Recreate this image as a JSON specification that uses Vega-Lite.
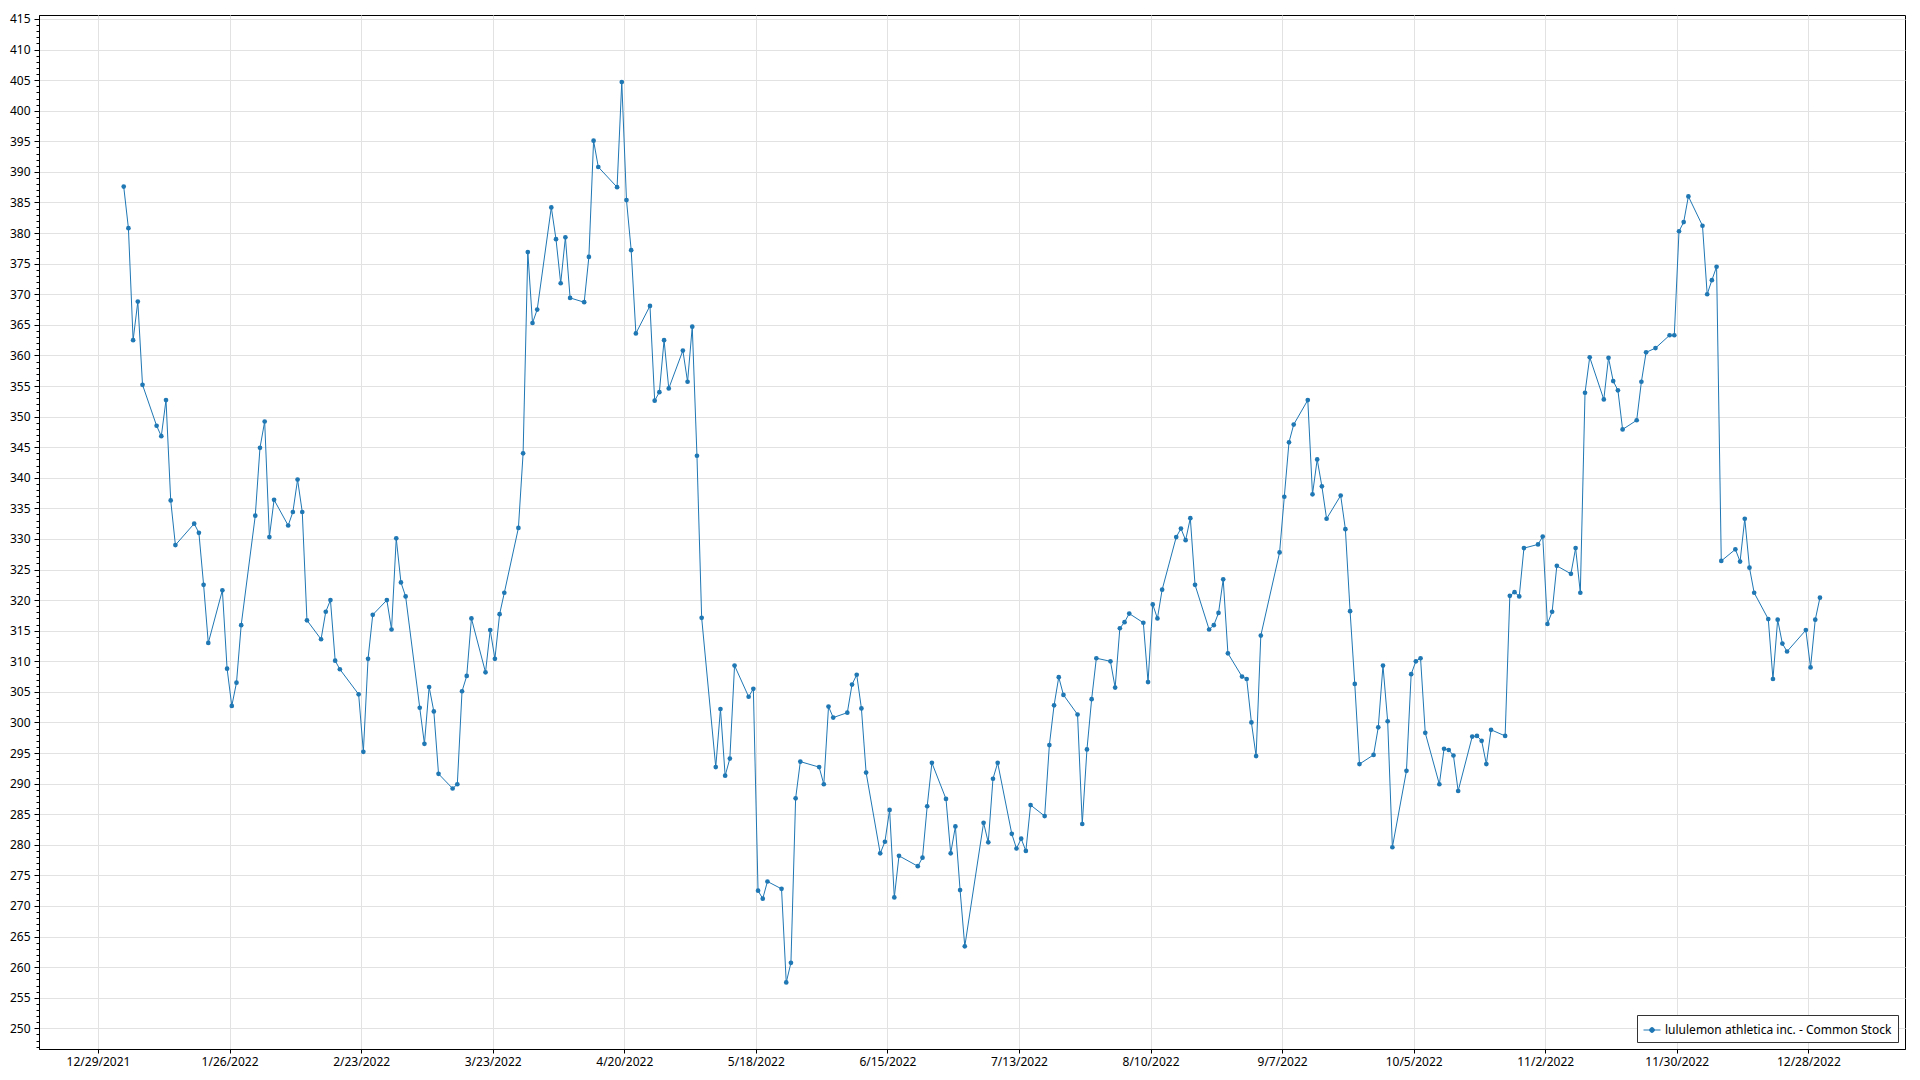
{
"$schema": "https://vega.github.io/schema/vega-lite/v6.json",
"width": 1866, "height": 1034,
"autosize": {"type": "none"},
"padding": {"left": 39, "top": 15, "right": 15, "bottom": 31},
"background": "white",
"config": {
  "view": {"stroke": "#000", "strokeWidth": 1},
  "font": "Noto Sans",
  "axis": {"domainColor": "#000", "tickColor": "#000", "labelColor": "#000", "labelFontSize": 12, "labelFont": "Noto Sans", "gridColor": "#e2e2e2", "gridWidth": 1}
},
"data": {"values": [
{"date":"2022-01-03","close":387.6},{"date":"2022-01-04","close":380.8},{"date":"2022-01-05","close":362.5},{"date":"2022-01-06","close":368.8},{"date":"2022-01-07","close":355.2},
{"date":"2022-01-10","close":348.5},{"date":"2022-01-11","close":346.8},{"date":"2022-01-12","close":352.7},{"date":"2022-01-13","close":336.3},{"date":"2022-01-14","close":329.0},
{"date":"2022-01-18","close":332.5},{"date":"2022-01-19","close":331.0},{"date":"2022-01-20","close":322.5},{"date":"2022-01-21","close":313.0},
{"date":"2022-01-24","close":321.6},{"date":"2022-01-25","close":308.8},{"date":"2022-01-26","close":302.7},{"date":"2022-01-27","close":306.5},{"date":"2022-01-28","close":315.9},
{"date":"2022-01-31","close":333.8},{"date":"2022-02-01","close":344.9},{"date":"2022-02-02","close":349.2},{"date":"2022-02-03","close":330.3},{"date":"2022-02-04","close":336.4},
{"date":"2022-02-07","close":332.2},{"date":"2022-02-08","close":334.4},{"date":"2022-02-09","close":339.7},{"date":"2022-02-10","close":334.4},{"date":"2022-02-11","close":316.7},
{"date":"2022-02-14","close":313.6},{"date":"2022-02-15","close":318.1},{"date":"2022-02-16","close":320.0},{"date":"2022-02-17","close":310.1},{"date":"2022-02-18","close":308.7},
{"date":"2022-02-22","close":304.6},{"date":"2022-02-23","close":295.2},{"date":"2022-02-24","close":310.4},{"date":"2022-02-25","close":317.6},
{"date":"2022-02-28","close":320.0},{"date":"2022-03-01","close":315.2},{"date":"2022-03-02","close":330.1},{"date":"2022-03-03","close":322.9},{"date":"2022-03-04","close":320.6},
{"date":"2022-03-07","close":302.4},{"date":"2022-03-08","close":296.5},{"date":"2022-03-09","close":305.8},{"date":"2022-03-10","close":301.8},{"date":"2022-03-11","close":291.6},
{"date":"2022-03-14","close":289.2},{"date":"2022-03-15","close":289.9},{"date":"2022-03-16","close":305.1},{"date":"2022-03-17","close":307.6},{"date":"2022-03-18","close":317.0},
{"date":"2022-03-21","close":308.2},{"date":"2022-03-22","close":315.1},{"date":"2022-03-23","close":310.4},{"date":"2022-03-24","close":317.7},{"date":"2022-03-25","close":321.2},
{"date":"2022-03-28","close":331.8},{"date":"2022-03-29","close":344.0},{"date":"2022-03-30","close":376.9},{"date":"2022-03-31","close":365.3},{"date":"2022-04-01","close":367.5},
{"date":"2022-04-04","close":384.2},{"date":"2022-04-05","close":379.0},{"date":"2022-04-06","close":371.8},{"date":"2022-04-07","close":379.3},{"date":"2022-04-08","close":369.4},
{"date":"2022-04-11","close":368.7},{"date":"2022-04-12","close":376.1},{"date":"2022-04-13","close":395.1},{"date":"2022-04-14","close":390.8},
{"date":"2022-04-18","close":387.5},{"date":"2022-04-19","close":404.7},{"date":"2022-04-20","close":385.4},{"date":"2022-04-21","close":377.2},{"date":"2022-04-22","close":363.6},
{"date":"2022-04-25","close":368.1},{"date":"2022-04-26","close":352.6},{"date":"2022-04-27","close":354.0},{"date":"2022-04-28","close":362.5},{"date":"2022-04-29","close":354.6},
{"date":"2022-05-02","close":360.8},{"date":"2022-05-03","close":355.7},{"date":"2022-05-04","close":364.7},{"date":"2022-05-05","close":343.6},{"date":"2022-05-06","close":317.1},
{"date":"2022-05-09","close":292.7},{"date":"2022-05-10","close":302.2},{"date":"2022-05-11","close":291.3},{"date":"2022-05-12","close":294.1},{"date":"2022-05-13","close":309.3},
{"date":"2022-05-16","close":304.2},{"date":"2022-05-17","close":305.5},{"date":"2022-05-18","close":272.5},{"date":"2022-05-19","close":271.2},{"date":"2022-05-20","close":274.0},
{"date":"2022-05-23","close":272.8},{"date":"2022-05-24","close":257.5},{"date":"2022-05-25","close":260.7},{"date":"2022-05-26","close":287.6},{"date":"2022-05-27","close":293.6},
{"date":"2022-05-31","close":292.7},{"date":"2022-06-01","close":289.9},{"date":"2022-06-02","close":302.6},{"date":"2022-06-03","close":300.8},
{"date":"2022-06-06","close":301.6},{"date":"2022-06-07","close":306.2},{"date":"2022-06-08","close":307.8},{"date":"2022-06-09","close":302.3},{"date":"2022-06-10","close":291.8},
{"date":"2022-06-13","close":278.6},{"date":"2022-06-14","close":280.5},{"date":"2022-06-15","close":285.7},{"date":"2022-06-16","close":271.4},{"date":"2022-06-17","close":278.2},
{"date":"2022-06-21","close":276.5},{"date":"2022-06-22","close":277.9},{"date":"2022-06-23","close":286.3},{"date":"2022-06-24","close":293.4},
{"date":"2022-06-27","close":287.5},{"date":"2022-06-28","close":278.6},{"date":"2022-06-29","close":283.0},{"date":"2022-06-30","close":272.6},{"date":"2022-07-01","close":263.4},
{"date":"2022-07-05","close":283.6},{"date":"2022-07-06","close":280.4},{"date":"2022-07-07","close":290.8},{"date":"2022-07-08","close":293.4},
{"date":"2022-07-11","close":281.8},{"date":"2022-07-12","close":279.4},{"date":"2022-07-13","close":281.0},{"date":"2022-07-14","close":279.0},{"date":"2022-07-15","close":286.5},
{"date":"2022-07-18","close":284.7},{"date":"2022-07-19","close":296.3},{"date":"2022-07-20","close":302.8},{"date":"2022-07-21","close":307.4},{"date":"2022-07-22","close":304.5},
{"date":"2022-07-25","close":301.3},{"date":"2022-07-26","close":283.4},{"date":"2022-07-27","close":295.6},{"date":"2022-07-28","close":303.8},{"date":"2022-07-29","close":310.5},
{"date":"2022-08-01","close":310.0},{"date":"2022-08-02","close":305.7},{"date":"2022-08-03","close":315.4},{"date":"2022-08-04","close":316.4},{"date":"2022-08-05","close":317.8},
{"date":"2022-08-08","close":316.3},{"date":"2022-08-09","close":306.6},{"date":"2022-08-10","close":319.3},{"date":"2022-08-11","close":317.0},{"date":"2022-08-12","close":321.7},
{"date":"2022-08-15","close":330.3},{"date":"2022-08-16","close":331.7},{"date":"2022-08-17","close":329.8},{"date":"2022-08-18","close":333.4},{"date":"2022-08-19","close":322.5},
{"date":"2022-08-22","close":315.2},{"date":"2022-08-23","close":315.9},{"date":"2022-08-24","close":317.9},{"date":"2022-08-25","close":323.4},{"date":"2022-08-26","close":311.3},
{"date":"2022-08-29","close":307.5},{"date":"2022-08-30","close":307.1},{"date":"2022-08-31","close":300.0},{"date":"2022-09-01","close":294.5},{"date":"2022-09-02","close":314.2},
{"date":"2022-09-06","close":327.8},{"date":"2022-09-07","close":336.9},{"date":"2022-09-08","close":345.8},{"date":"2022-09-09","close":348.7},
{"date":"2022-09-12","close":352.7},{"date":"2022-09-13","close":337.3},{"date":"2022-09-14","close":343.0},{"date":"2022-09-15","close":338.6},{"date":"2022-09-16","close":333.3},
{"date":"2022-09-19","close":337.1},{"date":"2022-09-20","close":331.6},{"date":"2022-09-21","close":318.2},{"date":"2022-09-22","close":306.3},{"date":"2022-09-23","close":293.2},
{"date":"2022-09-26","close":294.7},{"date":"2022-09-27","close":299.2},{"date":"2022-09-28","close":309.3},{"date":"2022-09-29","close":300.2},{"date":"2022-09-30","close":279.6},
{"date":"2022-10-03","close":292.1},{"date":"2022-10-04","close":307.9},{"date":"2022-10-05","close":310.0},{"date":"2022-10-06","close":310.5},{"date":"2022-10-07","close":298.3},
{"date":"2022-10-10","close":289.9},{"date":"2022-10-11","close":295.7},{"date":"2022-10-12","close":295.5},{"date":"2022-10-13","close":294.6},{"date":"2022-10-14","close":288.8},
{"date":"2022-10-17","close":297.7},{"date":"2022-10-18","close":297.8},{"date":"2022-10-19","close":297.0},{"date":"2022-10-20","close":293.2},{"date":"2022-10-21","close":298.8},
{"date":"2022-10-24","close":297.8},{"date":"2022-10-25","close":320.7},{"date":"2022-10-26","close":321.3},{"date":"2022-10-27","close":320.6},{"date":"2022-10-28","close":328.5},
{"date":"2022-10-31","close":329.1},{"date":"2022-11-01","close":330.4},{"date":"2022-11-02","close":316.1},{"date":"2022-11-03","close":318.1},{"date":"2022-11-04","close":325.6},
{"date":"2022-11-07","close":324.3},{"date":"2022-11-08","close":328.5},{"date":"2022-11-09","close":321.2},{"date":"2022-11-10","close":353.9},{"date":"2022-11-11","close":359.7},
{"date":"2022-11-14","close":352.8},{"date":"2022-11-15","close":359.6},{"date":"2022-11-16","close":355.8},{"date":"2022-11-17","close":354.3},{"date":"2022-11-18","close":347.9},
{"date":"2022-11-21","close":349.4},{"date":"2022-11-22","close":355.7},{"date":"2022-11-23","close":360.5},{"date":"2022-11-25","close":361.2},
{"date":"2022-11-28","close":363.3},{"date":"2022-11-29","close":363.3},{"date":"2022-11-30","close":380.3},{"date":"2022-12-01","close":381.8},{"date":"2022-12-02","close":386.0},
{"date":"2022-12-05","close":381.2},{"date":"2022-12-06","close":370.0},{"date":"2022-12-07","close":372.3},{"date":"2022-12-08","close":374.5},{"date":"2022-12-09","close":326.4},
{"date":"2022-12-12","close":328.3},{"date":"2022-12-13","close":326.3},{"date":"2022-12-14","close":333.3},{"date":"2022-12-15","close":325.3},{"date":"2022-12-16","close":321.2},
{"date":"2022-12-19","close":316.9},{"date":"2022-12-20","close":307.1},{"date":"2022-12-21","close":316.8},{"date":"2022-12-22","close":312.9},{"date":"2022-12-23","close":311.6},
{"date":"2022-12-27","close":315.1},{"date":"2022-12-28","close":309.0},{"date":"2022-12-29","close":316.8},{"date":"2022-12-30","close":320.4}
]},
"encoding": {
  "x": {"field": "date", "type": "temporal",
    "scale": {"type": "utc", "domain": [{"year": 2021, "month": 12, "date": 15, "hours": 23, "minutes": 17, "utc": true}, {"year": 2023, "month": 1, "date": 17, "hours": 2, "minutes": 24, "utc": true}]},
    "axis": {"title": null, "labelExpr": "utcFormat(datum.value + 40620000, '%-m/%-d/%Y')", "tickSize": 4, "labelPadding": 3, "grid": true, "labelFlush": false, "labelOverlap": false,
      "values": [
        {"year": 2021, "month": 12, "date": 28, "hours": 12, "minutes": 43, "utc": true},
        {"year": 2022, "month": 1, "date": 25, "hours": 12, "minutes": 43, "utc": true},
        {"year": 2022, "month": 2, "date": 22, "hours": 12, "minutes": 43, "utc": true},
        {"year": 2022, "month": 3, "date": 22, "hours": 12, "minutes": 43, "utc": true},
        {"year": 2022, "month": 4, "date": 19, "hours": 12, "minutes": 43, "utc": true},
        {"year": 2022, "month": 5, "date": 17, "hours": 12, "minutes": 43, "utc": true},
        {"year": 2022, "month": 6, "date": 14, "hours": 12, "minutes": 43, "utc": true},
        {"year": 2022, "month": 7, "date": 12, "hours": 12, "minutes": 43, "utc": true},
        {"year": 2022, "month": 8, "date": 9, "hours": 12, "minutes": 43, "utc": true},
        {"year": 2022, "month": 9, "date": 6, "hours": 12, "minutes": 43, "utc": true},
        {"year": 2022, "month": 10, "date": 4, "hours": 12, "minutes": 43, "utc": true},
        {"year": 2022, "month": 11, "date": 1, "hours": 12, "minutes": 43, "utc": true},
        {"year": 2022, "month": 11, "date": 29, "hours": 12, "minutes": 43, "utc": true},
        {"year": 2022, "month": 12, "date": 27, "hours": 12, "minutes": 43, "utc": true}
      ]}},
  "y": {"field": "close", "type": "quantitative",
    "scale": {"domain": [246.62, 415.65], "nice": false, "zero": false},
    "axis": {"title": null, "labelOverlap": false, "labelFlush": false, "labelPadding": 4,
      "labelExpr": "datum.value % 5 === 0 ? datum.label : ''",
      "tickSize": {"condition": {"test": "datum.value % 5 === 0", "value": 5}, "value": 3},
      "gridOpacity": {"condition": {"test": "datum.value % 5 === 0", "value": 1}, "value": 0},
      "values": [247,248,249,250,251,252,253,254,255,256,257,258,259,260,261,262,263,264,265,266,267,268,269,270,271,272,273,274,275,276,277,278,279,280,281,282,283,284,285,286,287,288,289,290,291,292,293,294,295,296,297,298,299,300,301,302,303,304,305,306,307,308,309,310,311,312,313,314,315,316,317,318,319,320,321,322,323,324,325,326,327,328,329,330,331,332,333,334,335,336,337,338,339,340,341,342,343,344,345,346,347,348,349,350,351,352,353,354,355,356,357,358,359,360,361,362,363,364,365,366,367,368,369,370,371,372,373,374,375,376,377,378,379,380,381,382,383,384,385,386,387,388,389,390,391,392,393,394,395,396,397,398,399,400,401,402,403,404,405,406,407,408,409,410,411,412,413,414,415]}},
  "color": {"datum": "lululemon athletica inc. - Common Stock", "type": "nominal",
    "scale": {"range": ["#1f77b4"]},
    "legend": {"title": null, "orient": "bottom-right", "offset": 7, "strokeColor": "#333", "fillColor": "#ffffff", "padding": 6, "labelLimit": 0,
      "symbolType": "M-1,0L1,0M-0.28,0A0.28,0.28,0,1,1,0.28,0A0.28,0.28,0,1,1,-0.28,0Z",
      "symbolSize": 289, "symbolStrokeWidth": 1, "symbolFillColor": "#1f77b4", "symbolStrokeColor": "#1f77b4", "symbolOpacity": 1,
      "labelFontSize": 12, "labelColor": "#000", "labelFont": "Noto Sans"}}
},
"layer": [
  {"mark": {"type": "line", "strokeWidth": 1}},
  {"mark": {"type": "point", "filled": true, "size": 22, "opacity": 1}}
]
}
